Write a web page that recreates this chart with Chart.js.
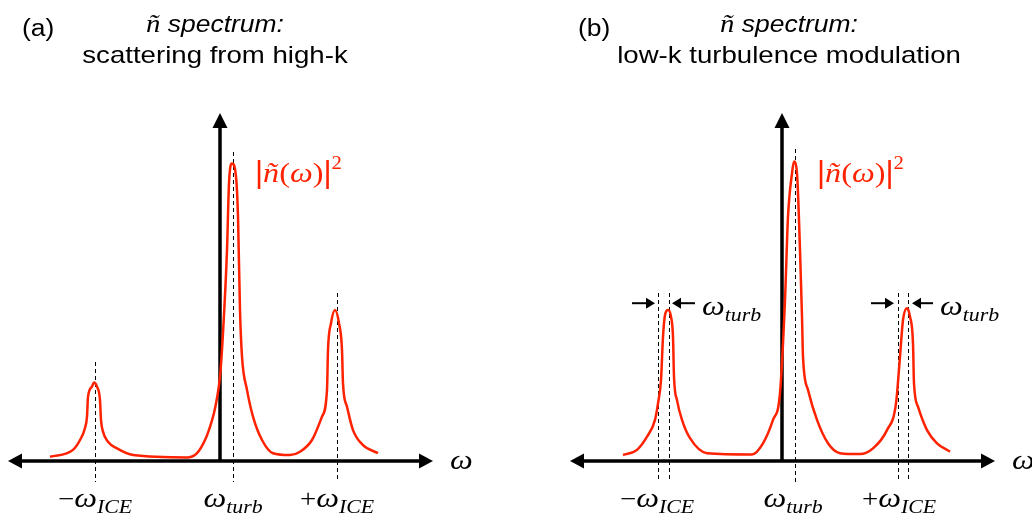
<!DOCTYPE html>
<html>
<head>
<meta charset="utf-8">
<script src="https://cdn.jsdelivr.net/npm/chart.js@4"></script>
<style>
  html, body { margin: 0; padding: 0; background: #fff; }
  #wrap { position: relative; width: 1032px; height: 521px; }
  .panel { position: absolute; top: 0; width: 516px; height: 521px; }
  #pa { left: 0; }
  #pb { left: 516px; }
</style>
</head>
<body>
<div id="wrap">
  <div class="panel" id="pa"><canvas id="ca"></canvas></div>
  <div class="panel" id="pb"><canvas id="cb"></canvas></div>
</div>
<script>
// (a) scattering from high-k: frequency (arb.) and |n(w)|^2 (arb.)
const omegaA = [-17.0, -14.7, -14.0, -13.5, -13.3, -13.2, -12.8, -12.6, -12.3, -12.0, -11.9, -11.7, -11.2, -10.3, -8.7,
  -3.2, -2.3, -1.5, -1.0, -0.6, -0.3, 0.0, 0.3, 0.7, 0.9, 1.2, 1.6, 1.8, 2.0, 2.2, 2.7, 3.3, 4.2, 5.3,
  7.0, 8.0, 9.2, 10.2, 10.7, 10.8, 11.1, 11.5, 11.9, 12.2, 12.3, 12.7, 13.3, 14.3, 15.8];
const powerA = [0.14, 0.37, 0.70, 1.10, 1.48, 2.14, 2.48, 2.62, 2.48, 2.03, 1.37, 0.98, 0.64, 0.42, 0.20,
  0.12, 0.26, 0.70, 1.14, 1.60, 2.10, 2.81, 4.27, 7.03, 9.26, 9.92, 9.48, 8.14, 5.03, 3.48, 2.37, 1.48, 0.70, 0.26,
  0.20, 0.31, 0.70, 1.48, 2.37, 3.70, 4.59, 5.03, 4.59, 3.70, 2.59, 1.81, 1.03, 0.53, 0.26];

// (b) low-k turbulence modulation
const omegaB = [-15.9, -14.5, -13.5, -12.7, -12.4, -12.1, -11.9, -11.7, -11.4, -11.1, -10.9, -10.8, -10.5, -10.0, -9.2,
  -7.5, -3.0, -1.9, -0.9, -0.2, 0.3, 0.6, 1.0, 1.2, 1.5, 1.8, 2.0, 2.1, 2.6, 3.5, 4.6, 5.8,
  7.8, 9.1, 10.5, 11.4, 11.8, 12.1, 12.5, 12.8, 13.1, 13.2, 13.6, 14.5, 15.5, 16.8];
const powerB = [0.20, 0.37, 0.81, 1.37, 1.92, 2.70, 4.14, 4.87, 5.03, 4.81, 4.14, 2.81, 2.03, 1.37, 0.76,
  0.26, 0.22, 0.59, 1.37, 2.26, 5.37, 8.14, 9.59, 9.98, 9.59, 7.03, 4.81, 3.48, 2.37, 1.37, 0.59, 0.26,
  0.23, 0.42, 1.03, 1.92, 3.48, 4.70, 5.09, 4.81, 3.92, 2.59, 1.81, 1.03, 0.59, 0.31];

// dashed marker lines (x position, top end)
const dashA = [-12.5, 1.3, 11.7];
const dashTopA = [3.3, 10.3, 5.6];
const dashB = [-12.4, -11.3, 1.3, 11.6, 12.6];
const dashTopB = [5.6, 5.6, 10.4, 5.6, 5.6];

// tick labels under the axis
const tickSign = ['\u2212', '', '+'];
const tickSub = ['ICE', 'turb', 'ICE'];
const tickPosA = [-12.5, 1.3, 11.7];
const tickPosB = [-12.5, 1.1, 11.7];

// width-marker arrows in (b)
const arrowFromB = [-15.0, -8.7, 8.9, 15.1];
const arrowToB = [-12.7, -11.0, 11.2, 13.0];
const arrowLabelB = [-8.0, 15.8];

const RED = '#ff2200';
const SANS = '"Liberation Sans", Arial, sans-serif';
const SERIF = '"Liberation Serif", "DejaVu Serif", serif';
const SX = 1.15; // source figure is stretched a bit horizontally

function run(ctx, x, y, parts, align) {
  let w = 0;
  parts.forEach(p => { ctx.font = p[1]; w += ctx.measureText(p[0]).width * SX; });
  let cx = align === 'center' ? x - w / 2 : x;
  ctx.textAlign = 'left';
  ctx.textBaseline = 'alphabetic';
  parts.forEach(p => {
    ctx.font = p[1];
    ctx.save();
    ctx.translate(cx, y + (p[2] || 0));
    ctx.scale(SX, 1);
    ctx.fillText(p[0], 0, 0);
    ctx.restore();
    cx += ctx.measureText(p[0]).width * SX;
  });
}

function arrowHead(ctx, x, y, dir, len, half) {
  ctx.beginPath();
  if (dir === 'up') {
    ctx.moveTo(x, y); ctx.lineTo(x - half, y + len); ctx.lineTo(x + half, y + len);
  } else {
    const s = dir === 'left' ? 1 : -1;
    ctx.moveTo(x, y); ctx.lineTo(x + s * len, y - half); ctx.lineTo(x + s * len, y + half);
  }
  ctx.closePath();
  ctx.fill();
}

function schematic(p) {
  return {
    id: 'schematic' + p.tag,
    beforeDatasetsDraw(chart) {
      const { ctx, scales: { x, y } } = chart;
      ctx.save();
      // dashed markers
      ctx.strokeStyle = '#000';
      ctx.lineWidth = 1;
      ctx.setLineDash([4, 3]);
      p.dash.forEach((d, i) => {
        ctx.beginPath();
        ctx.moveTo(Math.round(x.getPixelForValue(d)) + 0.5, y.getPixelForValue(p.dashTop[i]));
        ctx.lineTo(Math.round(x.getPixelForValue(d)) + 0.5, y.getPixelForValue(-0.7));
        ctx.stroke();
      });
      ctx.setLineDash([]);
      // axes
      ctx.fillStyle = '#000';
      ctx.lineWidth = 3.5;
      const y0 = y.getPixelForValue(0), x0 = x.getPixelForValue(0);
      const xl = x.getPixelForValue(-21.2), xr = x.getPixelForValue(21.3);
      const yt = y.getPixelForValue(11.6);
      ctx.beginPath();
      ctx.moveTo(xl + 8, y0); ctx.lineTo(xr - 8, y0);
      ctx.moveTo(x0, y0); ctx.lineTo(x0, yt + 8);
      ctx.stroke();
      arrowHead(ctx, xl, y0, 'left', 14, 7.5);
      arrowHead(ctx, xr, y0, 'right', 14, 7.5);
      arrowHead(ctx, x0, yt, 'up', 15, 7.5);
      ctx.restore();
    },
    afterDatasetsDraw(chart) {
      const { ctx, scales: { x, y } } = chart;
      ctx.save();
      ctx.fillStyle = '#000';
      // titles
      run(ctx, p.tagX, 36, [[p.tag, '23px ' + SANS]]);
      run(ctx, p.titleX, 32, [['\u00f1', 'italic 25px ' + SERIF], [' ', '23px ' + SANS], ['spectrum:', 'italic 23px ' + SANS]], 'center');
      run(ctx, p.titleX, 63, [[p.subtitle, '24px ' + SANS]], 'center');
      // axis name
      const y0 = y.getPixelForValue(0);
      run(ctx, x.getPixelForValue(21.3) + 17, y0 + 8, [['\u03c9', 'italic 28px ' + SERIF]]);
      // tick labels
      p.ticks.forEach((t, i) => {
        const parts = [];
        if (tickSign[i]) parts.push([tickSign[i], '25px ' + SERIF]);
        parts.push(['\u03c9', 'italic 28px ' + SERIF]);
        parts.push([tickSub[i], 'italic 19px ' + SERIF, 6]);
        run(ctx, x.getPixelForValue(t), y.getPixelForValue(-1.53), parts, 'center');
      });
      // |n(w)|^2
      ctx.fillStyle = RED;
      run(ctx, x.getPixelForValue(3.5), y.getPixelForValue(9.3), [
        ['|', 'bold 32px ' + SERIF], ['\u00f1', 'italic 28px ' + SERIF], ['(', '28px ' + SERIF],
        ['\u03c9', 'italic 28px ' + SERIF], [')', '28px ' + SERIF], ['|', 'bold 32px ' + SERIF],
        ['2', '18px ' + SERIF, -13]
      ]);
      // width arrows
      if (p.arrows) {
        ctx.fillStyle = '#000';
        ctx.strokeStyle = '#000';
        ctx.lineWidth = 2;
        const ya = y.getPixelForValue(5.26);
        arrowFromB.forEach((f, i) => {
          const a = x.getPixelForValue(f), b = x.getPixelForValue(arrowToB[i]);
          const dir = b > a ? 'right' : 'left';
          ctx.beginPath();
          ctx.moveTo(a, ya); ctx.lineTo(b + (dir === 'right' ? -6 : 6), ya);
          ctx.stroke();
          arrowHead(ctx, b, ya, dir, 9, 5.5);
        });
        const yl = y.getPixelForValue(4.87);
        arrowLabelB.forEach(lx => {
          run(ctx, x.getPixelForValue(lx), yl, [['\u03c9', 'italic 28px ' + SERIF], ['turb', 'italic 19px ' + SERIF, 6]]);
        });
      }
      ctx.restore();
    }
  };
}

function makeChart(id, omega, power, xmin, xmax, p) {
  return new Chart(document.getElementById(id), {
    type: 'line',
    data: {
      datasets: [{
        data: omega.map((w, i) => ({ x: w, y: power[i] })),
        borderColor: RED,
        borderWidth: 2.5,
        pointRadius: 0,
        fill: false,
        cubicInterpolationMode: 'monotone'
      }]
    },
    options: {
      responsive: true,
      maintainAspectRatio: false,
      animation: false,
      layout: { padding: 0 },
      plugins: { legend: { display: false }, tooltip: { enabled: false } },
      scales: {
        x: { type: 'linear', display: false, min: xmin, max: xmax },
        y: { type: 'linear', display: false, min: -2, max: 15.367 }
      }
    },
    plugins: [schematic(p)]
  });
}

makeChart('ca', omegaA, powerA, -22, 29.6, {
  tag: '(a)', tagX: 22, titleX: 215, subtitle: 'scattering from high-k',
  dash: dashA, dashTop: dashTopA, ticks: tickPosA, arrows: false
});
makeChart('cb', omegaB, powerB, -26.6, 25.0, {
  tag: '(b)', tagX: 62, titleX: 273, subtitle: 'low-k turbulence modulation',
  dash: dashB, dashTop: dashTopB, ticks: tickPosB, arrows: true
});
</script>
</body>
</html>
